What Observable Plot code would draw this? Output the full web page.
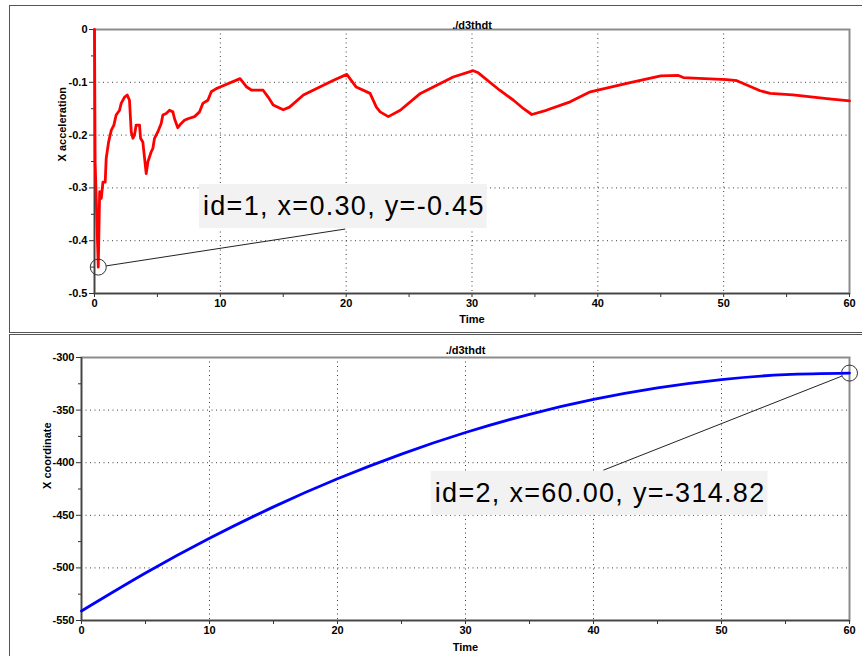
<!DOCTYPE html>
<html><head><meta charset="utf-8">
<script src="https://cdn.jsdelivr.net/npm/d3@7"></script>
<script src="https://cdn.jsdelivr.net/npm/@observablehq/plot@0.6"></script>
<style>
body{margin:0;background:#fff;}
#wrap{position:relative;width:862px;height:656px;overflow:hidden;background:#fff;font-family:"Liberation Sans",Arial,sans-serif;}
.panel{position:absolute;left:9px;width:900px;border:1.5px solid #555;box-sizing:border-box;}
#p1{top:5px;height:328px;}
#p2{top:334px;height:400px;}
.chart{position:absolute;left:0;}
</style></head><body>
<div id="wrap"><div class="panel" id="p1"></div><div class="panel" id="p2"></div>
<div class="chart" id="c1" style="top:0"></div><div class="chart" id="c2" style="top:334px"></div></div>
<script>
// ---- data: top panel (X acceleration vs Time) ----
const accTime = [0,0.05,0.3,0.41,0.54,0.67,0.85,0.93,1.12,1.33,1.54,1.72,1.99,2.12,2.39,2.6,2.78,2.92,3.05,3.18,3.31,3.58,3.66,3.84,3.98,4.11,4.24,4.5,4.64,4.77,5.03,5.3,5.43,5.7,5.96,6.23,6.36,6.62,6.89,7.15,7.42,7.95,8.35,8.61,9.01,9.28,9.68,9.98,11.57,12.1,12.5,13.4,13.8,14.2,15.0,15.5,16.6,17.9,19.0,20.05,20.8,21.9,22.4,22.7,23.35,24.3,25.9,28.5,30.1,30.5,32.2,33.3,34.1,34.75,35.9,37.8,39.4,42.3,45.0,46.4,46.8,47.6,50.25,51.05,52.9,53.7,55.5,58.2,60];
const accValue = [0,-0.25,-0.45,-0.307,-0.32,-0.289,-0.289,-0.244,-0.213,-0.191,-0.181,-0.162,-0.153,-0.140,-0.128,-0.124,-0.134,-0.194,-0.206,-0.200,-0.181,-0.181,-0.206,-0.213,-0.244,-0.273,-0.251,-0.232,-0.225,-0.206,-0.194,-0.178,-0.162,-0.159,-0.153,-0.156,-0.169,-0.186,-0.178,-0.172,-0.169,-0.165,-0.156,-0.140,-0.134,-0.118,-0.112,-0.109,-0.093,-0.109,-0.115,-0.115,-0.128,-0.143,-0.152,-0.147,-0.124,-0.109,-0.096,-0.085,-0.109,-0.121,-0.147,-0.156,-0.165,-0.153,-0.121,-0.090,-0.078,-0.082,-0.115,-0.134,-0.150,-0.161,-0.153,-0.137,-0.118,-0.102,-0.088,-0.087,-0.091,-0.092,-0.095,-0.097,-0.116,-0.121,-0.124,-0.131,-0.135];
// ---- data: bottom panel (X coordinate vs Time) ----
const posTime = [0,5,10,15,20,25,30,35,40,45,50,55,60];
const posValue = [-541,-504.9,-471.9,-442.0,-415.3,-391.8,-371.3,-354.0,-339.9,-328.9,-321.0,-316.3,-314.82];

const xTicks = [0,10,20,30,40,50,60];
const xTickLabels = ["0","10","20","30","40","50","60"];
const xMinorTicks = [5,15,25,35,45,55];
const yTicksTop = [0,-0.1,-0.2,-0.3,-0.4,-0.5];
const yTickLabelsTop = ["0","-0.1","-0.2","-0.3","-0.4","-0.5"];
const yMinorTop = [-0.05,-0.15,-0.25,-0.35,-0.45];
const yTicksBottom = [-300,-350,-400,-450,-500,-550];
const yTickLabelsBottom = ["-300","-350","-400","-450","-500","-550"];
const yMinorBottom = [-325,-375,-425,-475,-525];

const titles = ["./d3thdt","./d3thdt"];
const xLabel = "Time";
const yLabels = ["X acceleration","X coordinate"];
// annotations: marked point, label anchor, leader end
const annoTop = [{x:0.3, y:-0.45, tx:8.62, ty:-0.335, lx:19.9, ly:-0.378, label:"id=1, x=0.30, y=-0.45"}];
const annoBottom = [{x:60, y:-314.82, tx:27.6, ty:-429, lx:40.8, ly:-407, label:"id=2, x=60.00, y=-314.82"}];

const FONT = '"Liberation Sans Narrow","Liberation Sans",Arial,sans-serif';
const AFONT = '"Liberation Sans",Arial,Helvetica,sans-serif';

function makePanel(o){
  const data = o.time.map((t,i)=>({t, v:o.value[i]}));
  return Plot.plot({
    width:o.width, height:o.height,
    marginLeft:o.ml, marginRight:o.mr, marginTop:o.mt, marginBottom:o.mb,
    x:{domain:[0,60]}, y:{domain:o.yDomain},
    style:{background:"transparent", overflow:"visible", fontFamily:FONT, fontSize:"11px", fontWeight:"bold", color:"#000"},
    marks:[
      Plot.gridX(xTicks.slice(1,-1), {stroke:"#000", strokeOpacity:0.75, strokeDasharray:"1,3.5"}),
      Plot.gridY(o.yTicks.slice(1,-1), {stroke:"#000", strokeOpacity:0.75, strokeDasharray:"1,3.5"}),
      Plot.frame({stroke:"#8c8c8c", strokeWidth:2}),
      Plot.axisX({ticks:xMinorTicks, tickSize:4, tickFormat:()=>"", label:null, stroke:"#333"}),
      Plot.axisX({ticks:xTicks, tickSize:4, tickPadding:2, tickFormat:d=>xTickLabels[xTicks.indexOf(d)], label:null, stroke:"#333", fontWeight:"bold"}),
      Plot.axisY({ticks:o.yMinor, tickSize:3, tickFormat:()=>"", label:null, stroke:"#333"}),
      Plot.axisY({ticks:o.yTicks, tickSize:5, tickPadding:2, tickFormat:d=>o.yLabels[o.yTicks.indexOf(d)], label:null, stroke:"#333", fontWeight:"bold"}),
      Plot.ruleX([0], {stroke:"#444", strokeWidth:1.5}),
      Plot.ruleY([o.yDomain[0]], {stroke:"#444", strokeWidth:1.5}),
      Plot.line(data, {x:"t", y:"v", stroke:o.color, strokeWidth:2.8, curve:o.curve}),
      Plot.dot(o.anno, {x:"x", y:"y", r:8, stroke:"#333", strokeWidth:1, fill:"none"}),
      Plot.arrow(o.anno, {x1:"x", y1:"y", x2:"lx", y2:"ly", insetStart:8.5, headLength:0, stroke:"#222", strokeWidth:1}),
      Plot.text(o.anno, {x:"tx", y:"ty", text:"label", textAnchor:"start", fontSize:27, fontWeight:"normal", fontFamily:AFONT, fill:"#000"}),
      Plot.text([o.title], {frameAnchor:"top", dy:o.titleDy, fontSize:11, fontWeight:"bold"}),
      Plot.text([o.ylab], {frameAnchor:"left", rotate:-90, dx:o.ylabDx, fontSize:11, fontWeight:"bold"}),
      Plot.text([xLabel], {frameAnchor:"bottom", dy:o.timeDy, fontSize:11, fontWeight:"bold"})
    ]
  });
}

const chartTop = makePanel({time:accTime, value:accValue, color:"#ff0000", width:862, height:332, ml:94, mr:13, mt:29, mb:39,
  yDomain:[-0.5,0], yTicks:yTicksTop, yLabels:yTickLabelsTop, yMinor:yMinorTop, anno:annoTop, title:titles[0], titleDy:-8,
  ylab:yLabels[0], ylabDx:-32, curve:"linear", timeDy:29});
const chartBot = makePanel({time:posTime, value:posValue, color:"#0000ff", width:862, height:322, ml:81, mr:13, mt:23, mb:36,
  yDomain:[-550,-300], yTicks:yTicksBottom, yLabels:yTickLabelsBottom, yMinor:yMinorBottom, anno:annoBottom, title:titles[1], titleDy:-11,
  ylab:yLabels[1], ylabDx:-34, curve:"natural", timeDy:30});
document.getElementById("c1").appendChild(chartTop);
document.getElementById("c2").appendChild(chartBot);

// light background boxes behind the annotation labels
for (const svg of [chartTop, chartBot]) {
  svg.querySelectorAll("text").forEach(t => {
    if (!t.textContent.startsWith("id=")) return;
    t.style.letterSpacing = "1.3px";
    const b = t.getBBox();
    const r = document.createElementNS("http://www.w3.org/2000/svg","rect");
    r.setAttribute("x", b.x - 4); r.setAttribute("y", b.y - 7);
    r.setAttribute("width", b.width + 6); r.setAttribute("height", b.height + 14);
    r.setAttribute("fill", "#f2f2f2");
    if (t.getAttribute("transform")) r.setAttribute("transform", t.getAttribute("transform"));
    t.parentNode.insertBefore(r, t);
  });
}
</script></body></html>
